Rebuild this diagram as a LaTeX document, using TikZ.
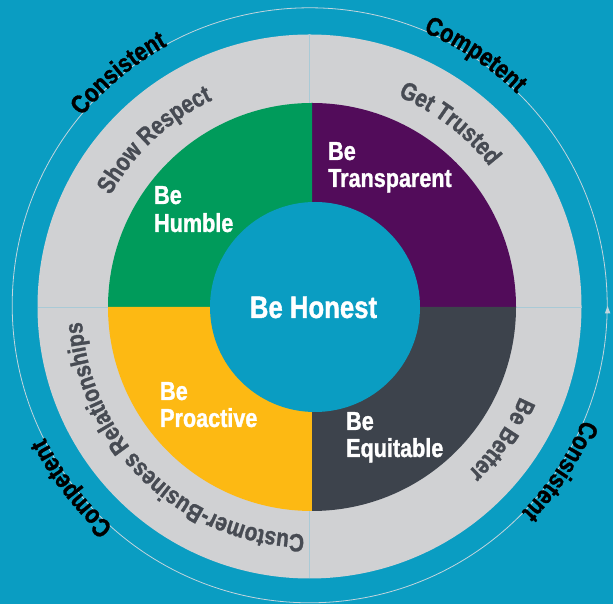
\documentclass[tikz,border=0pt]{standalone}
\usepackage{fontspec}
\setmainfont{Liberation Sans}[FakeStretch=0.83, BoldFeatures={FakeBold=1.2}]
\usetikzlibrary{decorations.text}
\definecolor{bgblue}{HTML}{0A9DC2}
\definecolor{ringgray}{HTML}{D0D1D3}
\definecolor{ringline}{HTML}{C3D5DD}
\definecolor{divline}{HTML}{A9CAD6}
\definecolor{qgreen}{HTML}{009B5B}
\definecolor{qpurple}{HTML}{520C5A}
\definecolor{qdark}{HTML}{3D434C}
\definecolor{qyellow}{HTML}{FDB913}
\definecolor{textgray}{HTML}{474B53}
\tikzset{
  outerlabel/.style={decorate, decoration={text along path, text align=center,
      text color=black, text={|\fontsize{26}{26}\selectfont\bfseries|#1}}},
  ringlabel/.style={decorate, decoration={text along path, text align=center,
      text color=textgray, text={|\fontsize{25}{25}\selectfont\bfseries|#1}}},
  qtext/.style={anchor=base west, text=white, inner sep=0pt,
      font=\fontsize{26}{26}\selectfont\bfseries},
  divider/.style={draw=divline, line width=0.8pt}
}
\begin{document}
\begin{tikzpicture}[x=1pt,y=1pt]
\fill[bgblue] (0,0) rectangle (613,604);
\useasboundingbox (0,0) rectangle (613,604);
% outer thin ring with arrowhead
\coordinate (oc) at (309.7,298.7);
\draw[ringline, line width=0.8pt] (oc) circle[radius=297.5];
\fill[ringline] (604.8,290.5) -- (610.4,290.5) -- (607.6,298) -- cycle;
% gray ring
\coordinate (gc) at (309.5,297.5);
\fill[ringgray] (gc) circle[radius=272];
\draw[divider] (309.5,25.5) -- (309.5,569.5);
\draw[divider] (37.5,297) -- (581.5,297);
% quadrants
\coordinate (qc) at (312,297);
\fill[qpurple] (qc) -- ++(0:204) arc[start angle=0, end angle=90, radius=204] -- cycle;
\fill[qgreen] (qc) -- ++(90:204) arc[start angle=90, end angle=180, radius=204] -- cycle;
\fill[qyellow] (qc) -- ++(180:204) arc[start angle=180, end angle=270, radius=204] -- cycle;
\fill[qdark] (qc) -- ++(270:204) arc[start angle=270, end angle=360, radius=204] -- cycle;
% center
\fill[bgblue] (315,297) circle[radius=105];
\node[anchor=base, text=white, inner sep=0pt, font=\fontsize{31}{31}\selectfont\bfseries] (honest) at (313.5,286) {Be Honest};
% quadrant texts
\node[qtext] (h1) at (154,400) {Be};
\node[qtext] (h2) at (154,372) {Humble};
\node[qtext] (t1) at (328,444) {Be};
\node[qtext] (t2) at (328,417) {Transparent};
\node[qtext] (p1) at (160,204) {Be};
\node[qtext] (p2) at (160,177) {Proactive};
\node[qtext] (e1) at (346,174) {Be};
\node[qtext] (e2) at (346,147) {Equitable};
% ring labels
\path[ringlabel=Show Respect] (gc) ++(193:228) arc[start angle=193, end angle=73, radius=228];
\path[ringlabel=Get Trusted] (gc) ++(112.5:228) arc[start angle=112.5, end angle=-7.5, radius=228];
\path[ringlabel=Be Better] (gc) ++(25.3:229) arc[start angle=25.3, end angle=-94.7, radius=229];
\path[ringlabel=Customer-Business Relationships] (gc) ++(306.3:228) arc[start angle=306.3, end angle=146.3, radius=228];
% outer labels
\path[outerlabel=Consistent] (oc) ++(189.5:296) arc[start angle=189.5, end angle=69.5, radius=296];
\path[outerlabel=Competent] (oc) ++(116.5:296) arc[start angle=116.5, end angle=-3.5, radius=296];
\path[outerlabel=Consistent] (oc) ++(26.5:296) arc[start angle=26.5, end angle=-93.5, radius=296];
\path[outerlabel=Competent] (oc) ++(277.5:296) arc[start angle=277.5, end angle=157.5, radius=296];
\end{tikzpicture}
\end{document}
